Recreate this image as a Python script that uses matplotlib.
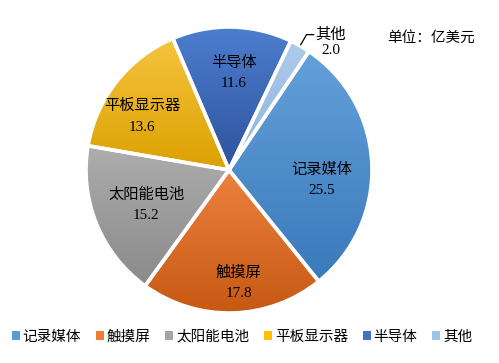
import numpy as np
import matplotlib.pyplot as plt
from matplotlib.patches import Patch
from matplotlib.colors import LinearSegmentedColormap

plt.rcParams['font.family'] = ['Liberation Serif', 'Noto Sans CJK SC']

labels = ['记录媒体', '触摸屏', '太阳能电池', '平板显示器', '半导体', '其他']
values = [25.5, 17.8, 15.2, 13.6, 11.6, 2.0]
top_colors = ['#64a0da', '#ec8240', '#adadad', '#f5c440', '#4d7ecf', '#aecbec']
bottom_colors = ['#3a79bb', '#c65812', '#8a8a8a', '#dca000', '#2d539c', '#8ab2de']
legend_colors = ['#5b9bd5', '#ed7d31', '#a5a5a5', '#ffc000', '#4472c4', '#9dc3e6']

fig = plt.figure(figsize=(4.99, 3.63), dpi=100)
cx, cy, rpx = 229 / 499, 1 - 170 / 363, 143
w, h = rpx / 499, rpx / 363
ax = fig.add_axes([cx - 1.2 * w, cy - 1.2 * h, 2.4 * w, 2.4 * h])

wedges, texts = ax.pie(values, startangle=56, counterclock=False, radius=1,
                       labels=[f'{l}\n{v:.1f}' for l, v in zip(labels, values)],
                       labeldistance=0.7,
                       wedgeprops=dict(edgecolor='white', linewidth=2.6),
                       textprops=dict(fontsize=11, ha='center', va='center',
                                      linespacing=1.75))

# gradient fill for each slice (light at top, darker at bottom)
grad = np.linspace(0, 1, 256).reshape(-1, 1)
for wd, c1, c2 in zip(wedges, top_colors, bottom_colors):
    verts = wd.get_path().vertices
    x0, y0 = verts.min(axis=0)
    x1, y1 = verts.max(axis=0)
    cmap = LinearSegmentedColormap.from_list('g', [c2, c1])
    im = ax.imshow(grad, cmap=cmap, extent=(x0, x1, y0, y1), origin='lower',
                   aspect='auto', zorder=1)
    im.set_clip_path(wd)
    wd.set_facecolor('none')
    wd.set_zorder(2)

# nudge labels a little toward where they sit in the original
shifts = [(-0.05, -0.1), (0.05, -0.09), (0.07, 0.02), (-0.06, -0.06), (0.02, -0.02), (0, 0)]
for t, (dx, dy) in zip(texts, shifts):
    x, y = t.get_position()
    t.set_position((x + dx, y + dy))
    t.set_zorder(3)

# small slice gets an outside label with a leader line
texts[-1].set_visible(False)
wd = wedges[-1]
mid = np.deg2rad((wd.theta1 + wd.theta2) / 2)
px, py = 1.01 * np.cos(mid), 1.01 * np.sin(mid)
ex, ey = px + 0.04, py + 0.07
ax.plot([px, ex, ex + 0.05], [py, ey, ey], color='black', lw=0.9, zorder=3)
ax.text(ex + 0.17, ey + 0.05, f'{labels[-1]}\n{values[-1]:.1f}', fontsize=11,
        ha='center', va='top', linespacing=1.25, zorder=3)

ax.set_xlim(-1.2, 1.2)
ax.set_ylim(-1.2, 1.2)
ax.axis('off')

fig.text(387 / 499, 1 - 38 / 363, '单位：亿美元', fontsize=10.5, ha='left', va='center')

handles = [Patch(facecolor=c, edgecolor='none') for c in legend_colors]
fig.legend(handles, labels, loc='center', bbox_to_anchor=(0.485, 1 - 337 / 363),
           ncol=6, frameon=False, fontsize=10.5, handlelength=0.55,
           handleheight=0.55, handletextpad=0.2, columnspacing=1.0)

fig.savefig('out.png', dpi=100)
